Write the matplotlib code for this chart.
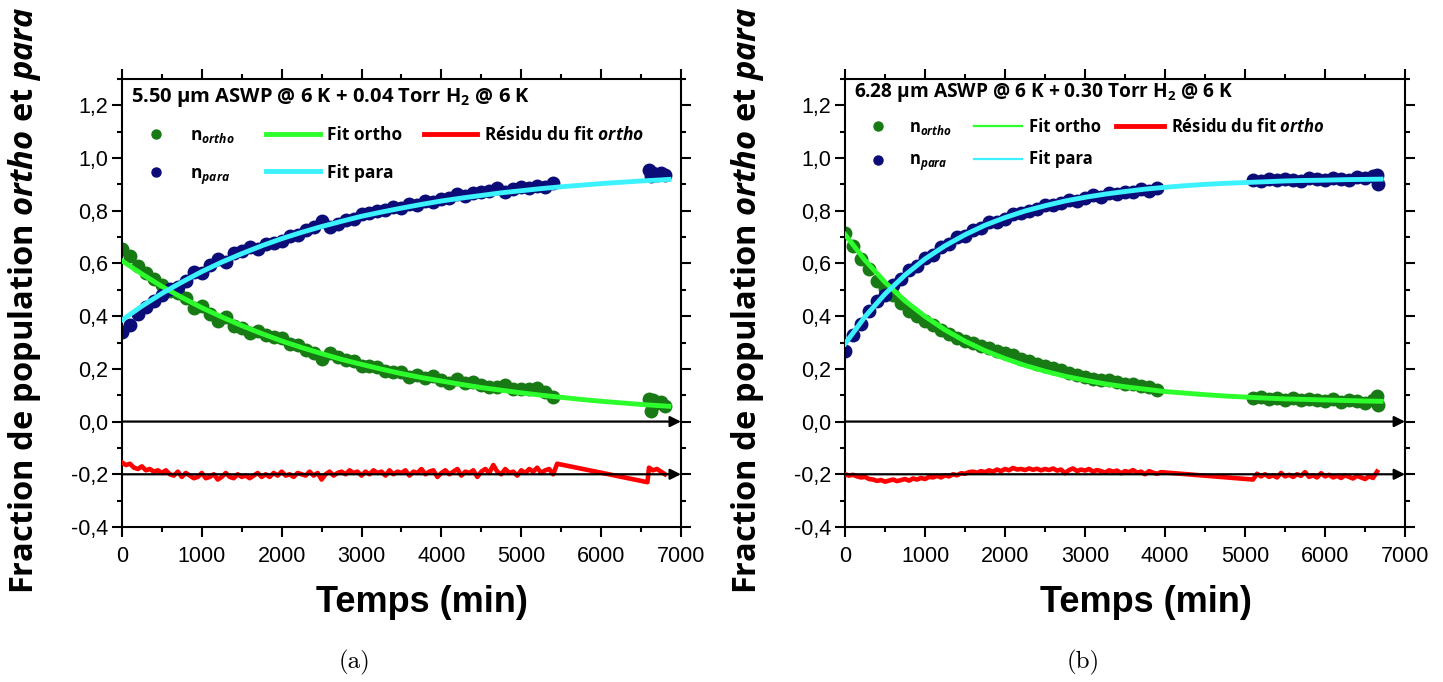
import numpy as np
import matplotlib
matplotlib.use('Agg')
import matplotlib.pyplot as plt
from matplotlib.lines import Line2D
from matplotlib.ticker import MultipleLocator, FuncFormatter

# fonts: Arial-like ticks, bold sans for labels, italic sub-parts via mathtext
plt.rcParams['font.family'] = 'Liberation Sans'
plt.rcParams['mathtext.fontset'] = 'custom'
plt.rcParams['mathtext.rm'] = 'Open Sans:bold'
plt.rcParams['mathtext.it'] = 'Open Sans:italic:bold'
plt.rcParams['mathtext.bf'] = 'Open Sans:bold'

# ---------------- panel (a) : 5.50 um, 0.04 Torr ----------------
t_a = np.concatenate([np.arange(0, 5401, 100), [6600, 6620, 6650, 6700, 6750, 6800]])
ortho_a = [0.655, 0.629, 0.589, 0.565, 0.541, 0.518, 0.496, 0.489, 0.468, 0.432,
           0.437, 0.407, 0.383, 0.395, 0.361, 0.354, 0.336, 0.344, 0.328, 0.322,
           0.316, 0.296, 0.291, 0.271, 0.262, 0.238, 0.259, 0.245, 0.232, 0.229,
           0.212, 0.209, 0.207, 0.190, 0.189, 0.187, 0.171, 0.175, 0.165, 0.174,
           0.159, 0.148, 0.163, 0.148, 0.149, 0.139, 0.130, 0.131, 0.137, 0.123,
           0.124, 0.125, 0.127, 0.113, 0.095,
           0.085, 0.040, 0.080, 0.070, 0.075, 0.060]
para_a = [0.340, 0.367, 0.408, 0.433, 0.457, 0.481, 0.503, 0.511, 0.532, 0.568,
          0.564, 0.593, 0.618, 0.606, 0.639, 0.647, 0.664, 0.656, 0.672, 0.678,
          0.684, 0.704, 0.708, 0.728, 0.737, 0.760, 0.739, 0.751, 0.764, 0.767,
          0.789, 0.790, 0.800, 0.803, 0.815, 0.812, 0.826, 0.822, 0.838, 0.835,
          0.845, 0.850, 0.862, 0.855, 0.866, 0.870, 0.875, 0.885, 0.872, 0.884,
          0.890, 0.885, 0.893, 0.890, 0.905,
          0.955, 0.930, 0.945, 0.935, 0.945, 0.935]

t_fit_a = np.concatenate([np.arange(0, 6751, 250), [6850]])
ortho_fit_a = [0.610, 0.560, 0.513, 0.471, 0.432, 0.397, 0.364, 0.334, 0.306, 0.281,
               0.258, 0.236, 0.217, 0.199, 0.182, 0.167, 0.154, 0.141, 0.129, 0.119,
               0.109, 0.100, 0.092, 0.084, 0.077, 0.071, 0.065, 0.060, 0.058]
para_fit_a = [0.385, 0.438, 0.486, 0.529, 0.569, 0.605, 0.637, 0.667, 0.694, 0.718,
              0.740, 0.760, 0.779, 0.795, 0.810, 0.824, 0.837, 0.848, 0.858, 0.868,
              0.876, 0.884, 0.891, 0.897, 0.903, 0.908, 0.913, 0.917, 0.919]

t_res_a = np.concatenate([np.arange(0, 5451, 50), [6580, 6600, 6650, 6700, 6750, 6800]])
res_a = [0.045, 0.035, 0.040, 0.025, 0.020, 0.030, 0.015, 0.020, 0.010, 0.015,
         0.005, 0.015, 0.000, -0.005, 0.010, -0.010, 0.005, -0.005, -0.015, -0.010,
         0.005, -0.015, -0.010, 0.000, -0.020, -0.010, 0.005, -0.010, -0.015, 0.000,
         -0.010, -0.005, -0.015, -0.005, 0.005, -0.010, 0.000, -0.010, 0.005, -0.005,
         0.010, -0.005, 0.000, -0.010, 0.005, 0.000, -0.005, 0.010, -0.005, 0.005,
         -0.020, 0.000, 0.010, -0.005, 0.005, 0.010, 0.000, 0.015, 0.005, 0.010,
         -0.005, 0.010, 0.000, 0.015, 0.005, 0.010, -0.005, 0.015, 0.000, 0.010,
         0.005, 0.015, -0.005, 0.010, 0.005, 0.020, 0.000, 0.010, 0.015, -0.010,
         0.005, 0.015, 0.000, 0.010, 0.020, -0.005, 0.010, 0.005, 0.015, -0.010,
         0.010, 0.020, 0.005, 0.035, 0.010, 0.000, 0.020, 0.005, 0.010, -0.005,
         0.015, 0.005, 0.020, 0.010, 0.025, 0.005, 0.015, 0.020, 0.000, 0.040,
         -0.030, 0.025, 0.015, 0.020, 0.010, 0.000]

# ---------------- panel (b) : 6.28 um, 0.30 Torr ----------------
t_b = np.concatenate([np.arange(0, 3901, 100), np.arange(5100, 6601, 100), [6650, 6660]])
ortho_b = [0.715, 0.667, 0.618, 0.578, 0.535, 0.503, 0.479, 0.449, 0.421, 0.401,
           0.381, 0.365, 0.346, 0.331, 0.318, 0.307, 0.300, 0.288, 0.278, 0.268,
           0.259, 0.252, 0.238, 0.230, 0.220, 0.211, 0.205, 0.194, 0.185, 0.175,
           0.171, 0.161, 0.158, 0.156, 0.150, 0.144, 0.144, 0.134, 0.133, 0.120,
           0.088, 0.094, 0.086, 0.090, 0.083, 0.089, 0.080, 0.087, 0.082, 0.078,
           0.086, 0.076, 0.083, 0.079, 0.072, 0.080, 0.098, 0.062]
para_b = [0.268, 0.330, 0.372, 0.418, 0.458, 0.480, 0.520, 0.540, 0.574, 0.590,
          0.622, 0.632, 0.662, 0.672, 0.700, 0.704, 0.728, 0.733, 0.756, 0.758,
          0.770, 0.786, 0.790, 0.798, 0.808, 0.822, 0.822, 0.830, 0.842, 0.838,
          0.848, 0.858, 0.852, 0.866, 0.862, 0.872, 0.870, 0.882, 0.876, 0.888,
          0.918, 0.912, 0.920, 0.915, 0.922, 0.918, 0.914, 0.924, 0.920, 0.916,
          0.926, 0.920, 0.918, 0.928, 0.924, 0.930, 0.935, 0.900]

t_fit_b = np.concatenate([np.arange(0, 6501, 250), [6700]])
ortho_fit_b = [0.710, 0.612, 0.529, 0.458, 0.399, 0.348, 0.305, 0.269, 0.239, 0.213,
               0.191, 0.172, 0.157, 0.143, 0.132, 0.123, 0.114, 0.108, 0.102, 0.097,
               0.093, 0.089, 0.086, 0.084, 0.082, 0.080, 0.078, 0.077]
para_fit_b = [0.295, 0.398, 0.484, 0.556, 0.617, 0.667, 0.709, 0.745, 0.774, 0.799,
              0.819, 0.837, 0.851, 0.863, 0.873, 0.882, 0.889, 0.895, 0.900, 0.904,
              0.907, 0.910, 0.913, 0.915, 0.916, 0.918, 0.919, 0.920]

t_res_b = np.concatenate([np.arange(0, 3951, 50), np.arange(5100, 6651, 50)])
res_b = [0.000, -0.005, -0.002, -0.008, -0.012, -0.010, -0.018, -0.020, -0.025, -0.022,
         -0.028, -0.024, -0.020, -0.026, -0.022, -0.018, -0.024, -0.016, -0.020, -0.014,
         -0.018, -0.010, -0.012, -0.006, -0.012, -0.004, -0.008, 0.000, -0.004, 0.004,
         0.002, 0.008, 0.010, 0.006, 0.012, 0.008, 0.015, 0.010, 0.018, 0.012,
         0.020, 0.015, 0.024, 0.018, 0.020, 0.016, 0.022, 0.017, 0.021, 0.015,
         0.020, 0.016, 0.022, 0.014, 0.018, 0.004, 0.016, 0.022, 0.012, 0.018,
         0.014, 0.020, 0.010, 0.016, 0.012, 0.006, 0.015, 0.010, 0.014, 0.004,
         0.012, 0.008, 0.016, 0.006, 0.010, 0.000, 0.012, 0.006, 0.002, 0.008,
         -0.020, 0.002, -0.008, 0.000, -0.010, -0.004, -0.012, 0.005, -0.008, -0.002,
         -0.010, 0.000, -0.006, 0.008, -0.010, -0.004, -0.012, 0.004, -0.008, -0.002,
         -0.012, -0.006, -0.014, -0.004, -0.010, -0.016, -0.006, -0.012, -0.018, -0.008,
         -0.014, 0.010]

title_a = '5.50 µm ASWP @ 6 K + 0.04 Torr H$_2$ @ 6 K'
title_b = '6.28 µm ASWP @ 6 K + 0.30 Torr H$_2$ @ 6 K'

# styles
C_ORTHO = '#187a14'
C_PARA = '#0c0c78'
C_FIT_O = '#2cff2c'
C_FIT_P = '#3cf2ff'
C_RES = '#ff0000'
RES_OFFSET = -0.2   # residual drawn around -0.2 as in the original
XMAX = 7000

comma = FuncFormatter(lambda v, p: f'{v:.1f}'.replace('.', ','))


def draw_panel(ax, t, ortho, para, t_fit, ortho_fit, para_fit, t_res, res,
               title, title_size, title_y, leg_size, leg_fit_lw, leg_y,
               leg_x1, leg_x2, leg_spacing, handle_len, col_space):
    ax.plot(t, ortho, 'o', color=C_ORTHO, ms=9, zorder=2)
    ax.plot(t, para, 'o', color=C_PARA, ms=9, zorder=2)
    ax.plot(t_fit, ortho_fit, color=C_FIT_O, lw=3.5, zorder=3)
    ax.plot(t_fit, para_fit, color=C_FIT_P, lw=3.5, zorder=3)
    ax.plot(t_res, np.array(res) + RES_OFFSET, color=C_RES, lw=3.3, zorder=3)

    # black baseline arrows at 0 and at the residual offset
    for y in (0.0, RES_OFFSET):
        ax.annotate('', xy=(XMAX, y), xytext=(0, y),
                    arrowprops=dict(arrowstyle='-|>', color='black', lw=1.6,
                                    mutation_scale=16, shrinkA=0, shrinkB=0),
                    zorder=5)

    ax.set_xlim(0, XMAX)
    ax.set_ylim(-0.4, 1.3)
    ax.xaxis.set_major_locator(MultipleLocator(1000))
    ax.xaxis.set_minor_locator(MultipleLocator(500))
    ax.yaxis.set_major_locator(MultipleLocator(0.2))
    ax.yaxis.set_minor_locator(MultipleLocator(0.1))
    ax.yaxis.set_major_formatter(comma)
    ax.tick_params(which='both', direction='out', top=True, right=True,
                   width=1.5, labelsize=15.5)
    ax.tick_params(which='major', length=7)
    ax.tick_params(which='minor', length=3.8)
    ax.tick_params(axis='x', which='major', pad=7)
    ax.tick_params(axis='y', which='major', pad=3)
    for s in ax.spines.values():
        s.set_linewidth(1.5)

    ax.set_xlabel('Temps (min)', fontsize=26, fontweight='bold',
                  fontfamily='Liberation Sans')
    ax.xaxis.set_label_coords(0.537, -0.13)
    ax.set_ylabel(r'Fraction de population $\mathit{ortho}$ et $\mathit{para}$',
                  fontsize=23.5, fontweight='bold', fontfamily='Open Sans')
    ax.yaxis.set_label_coords(-0.141, 0.507)

    ax.text(0.016, title_y, title, transform=ax.transAxes, ha='left', va='center',
            fontsize=title_size, fontweight='bold', fontfamily='Open Sans')

    prop = {'family': 'Open Sans', 'weight': 'bold', 'size': leg_size}
    common = dict(loc='upper left', frameon=False, borderpad=0, borderaxespad=0,
                  handlelength=handle_len, handletextpad=0.4, labelspacing=leg_spacing,
                  prop=prop)

    # data-point keys (first column)
    pts = [Line2D([], [], marker='o', ls='none', color=C_ORTHO, ms=6.5),
           Line2D([], [], marker='o', ls='none', color=C_PARA, ms=6.5)]
    leg1 = ax.legend(pts, [r'n$_{\mathit{ortho}}$', r'n$_{\mathit{para}}$'],
                     bbox_to_anchor=(leg_x1, leg_y), **common)
    ax.add_artist(leg1)

    # fit / residual keys
    lines = [Line2D([], [], color=C_FIT_O, lw=leg_fit_lw),
             Line2D([], [], color=C_FIT_P, lw=leg_fit_lw),
             Line2D([], [], color=C_RES, lw=3.5)]
    ax.legend(lines, ['Fit ortho', 'Fit para', r'Résidu du fit $\mathit{ortho}$'],
              ncol=2, columnspacing=col_space, bbox_to_anchor=(leg_x2, leg_y), **common)


fig = plt.figure(figsize=(14.43, 6.82), dpi=100)
ax_a = fig.add_axes([0.0845, 0.2273, 0.3874, 0.6569])
ax_b = fig.add_axes([0.5856, 0.2273, 0.3881, 0.6569])

draw_panel(ax_a, t_a, ortho_a, para_a, t_fit_a, ortho_fit_a, para_fit_a, t_res_a, res_a,
           title_a, 14.5, 0.958, 12.5, 3.5, 0.894, 0.0134, 0.2576, 1.1, 3.1, 1.25)
draw_panel(ax_b, t_b, ortho_b, para_b, t_fit_b, ortho_fit_b, para_fit_b, t_res_b, res_b,
           title_b, 13.8, 0.969, 12, 1.6, 0.913, 0.0152, 0.2304, 0.87, 2.9, 0.9)

fig.text(0.246, 0.029, '(a)', ha='center', va='center', fontsize=18, fontfamily='cmr10')
fig.text(0.7505, 0.029, '(b)', ha='center', va='center', fontsize=18, fontfamily='cmr10')

fig.savefig('out.png', dpi=100)
